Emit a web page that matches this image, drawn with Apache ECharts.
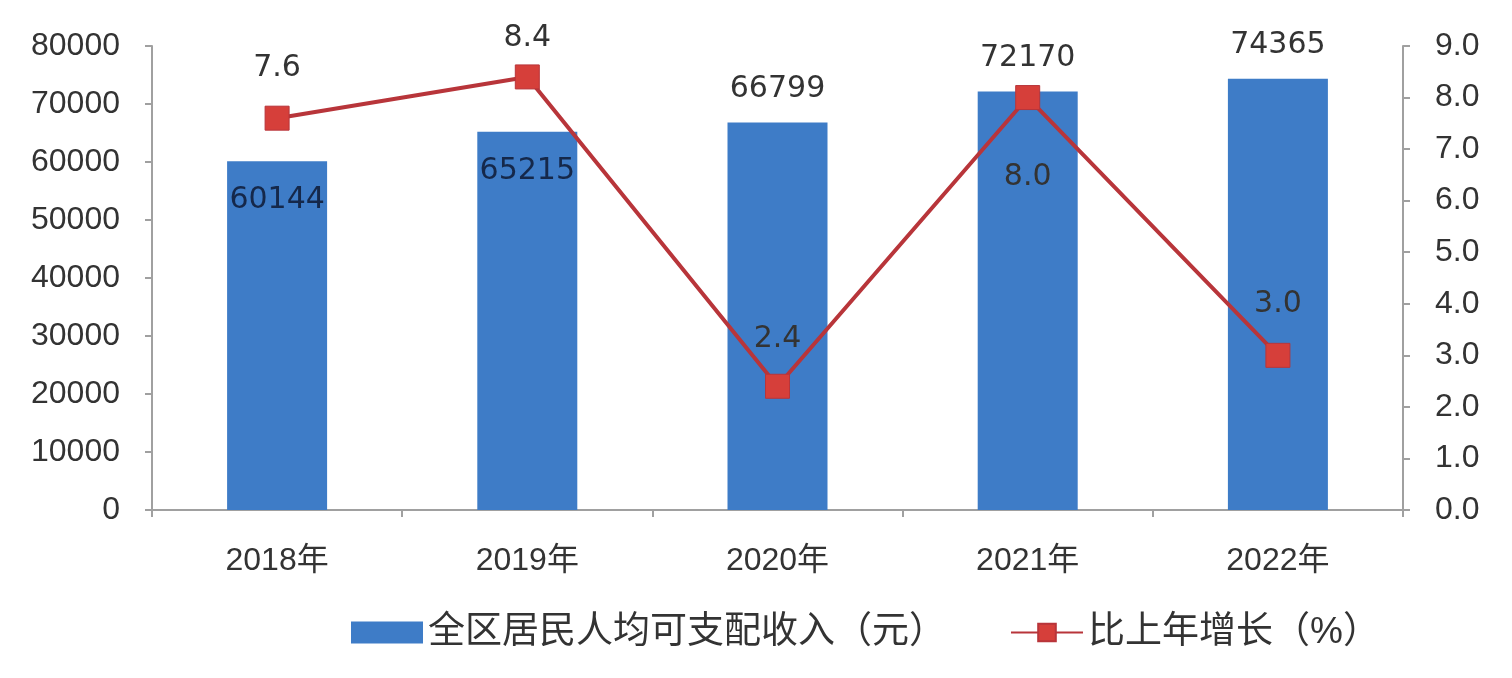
<!DOCTYPE html>
<html><head><meta charset="utf-8">
<script src="https://cdn.jsdelivr.net/npm/echarts@6/dist/echarts.min.js"></script>
<style>html,body{margin:0;padding:0;background:#fff}#c{width:1512px;height:678px}</style>
</head><body><div id="c"></div>
<script>
const categories = ['2018年','2019年','2020年','2021年','2022年'];
const incomeValues = [60144, 65215, 66799, 72170, 74365];
const growthValues = [7.6, 8.4, 2.4, 8.0, 3.0];
const leftTicks = {min: 0, max: 80000, interval: 10000};
const rightTicks = {min: 0, max: 9, interval: 1};
const barName = '全区居民人均可支配收入（元）';
const lineName = '比上年增长（%）';

const FONT = 'Liberation Sans, Noto Sans CJK SC, sans-serif';
const LFONT = 'DejaVu Sans, Noto Sans CJK SC, sans-serif';
const barLabelPos = ['inside', 'inside', 'top', 'top', 'top'];
const lineLabelPos = ['top', 'top', 'top', 'bottom', 'top'];
const lineLabelDist = [22, 11, 20, 52, 24];

const chart = echarts.init(document.getElementById('c'), null, {renderer: 'canvas'});
chart.setOption({
  animation: false,
  textStyle: {fontFamily: FONT},
  grid: {left: 152, right: 109, top: 46, bottom: 168},
  legend: {
    bottom: 22, left: 346, itemGap: 64, itemWidth: 72, itemHeight: 22,
    textStyle: {fontSize: 37, color: '#333', fontFamily: FONT},
    data: [{name: barName, icon: 'rect'}, {name: lineName}]
  },
  xAxis: {
    type: 'category', data: categories,
    axisLine: {lineStyle: {color: '#a0a0a0', width: 2}},
    axisTick: {show: true, length: 7, interval: 0, lineStyle: {color: '#a0a0a0', width: 2}},
    axisLabel: {fontSize: 32, color: '#333', margin: 35, fontFamily: FONT}
  },
  yAxis: [{
    type: 'value', min: leftTicks.min, max: leftTicks.max, interval: leftTicks.interval,
    axisLine: {show: true, lineStyle: {color: '#a0a0a0', width: 2}},
    axisTick: {show: true, length: 7, lineStyle: {color: '#a0a0a0', width: 2}},
    splitLine: {show: false},
    axisLabel: {fontSize: 32, color: '#333', margin: 32, fontFamily: FONT,
      formatter: v => String(v)}
  }, {
    type: 'value', min: rightTicks.min, max: rightTicks.max, interval: rightTicks.interval,
    axisLine: {show: true, lineStyle: {color: '#a0a0a0', width: 2}},
    axisTick: {show: true, length: 7, lineStyle: {color: '#a0a0a0', width: 2}},
    splitLine: {show: false},
    axisLabel: {fontSize: 32, color: '#333', margin: 32, fontFamily: FONT,
      formatter: v => v.toFixed(1)}
  }],
  series: [{
    name: barName, type: 'bar', yAxisIndex: 0, barWidth: 100,
    itemStyle: {color: '#3e7cc7'},
    data: incomeValues.map((v, i) => ({
      value: v,
      label: barLabelPos[i] === 'inside'
        ? {show: true, position: 'insideTop', distance: 24, color: '#15284a', fontSize: 30, fontFamily: LFONT}
        : {show: true, position: 'top', distance: 18, color: '#333', fontSize: 30, fontFamily: LFONT}
    }))
  }, {
    name: lineName, type: 'line', yAxisIndex: 1,
    symbol: 'rect', symbolSize: 24,
    lineStyle: {color: '#b8353a', width: 4},
    itemStyle: {color: '#d63f3a', borderColor: '#b8353a', borderWidth: 1},
    data: growthValues.map((v, i) => ({
      value: v,
      label: {show: true, position: lineLabelPos[i], distance: lineLabelDist[i],
        color: '#333', fontSize: 30, fontFamily: LFONT, formatter: p => p.value.toFixed(1)}
    }))
  }]
});
</script></body></html>
